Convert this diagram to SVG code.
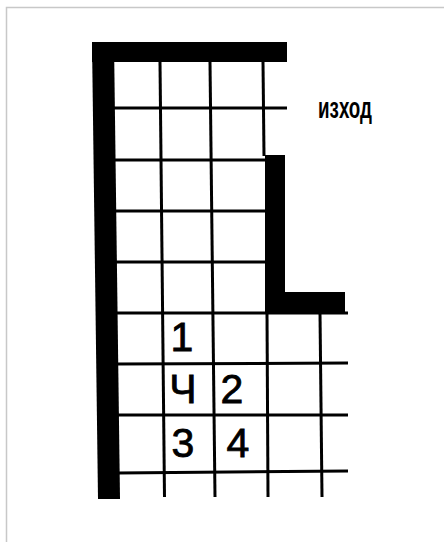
<svg xmlns="http://www.w3.org/2000/svg" width="444" height="542" viewBox="0 0 444 542">
  <style>
    .wall { fill: #000; }
    .grid { stroke: #000; stroke-width: 3; fill: none; }
    .num { font-family: "Liberation Sans", Arial, sans-serif; font-size: 41px; fill: #000; stroke: #000; stroke-width: 0.8; text-anchor: middle; }
    .lbl { font-family: "Liberation Sans", Arial, sans-serif; font-size: 29px; font-weight: bold; fill: #000; }
  </style>
  <rect x="0" y="0" width="444" height="542" fill="#fff"/>
  <rect x="6.5" y="7.5" width="500" height="600" fill="none" stroke="#c8c8c8" stroke-width="1.5"/>

  <g id="grid">
    <line class="grid" x1="160" y1="62" x2="164.5" y2="497"/>
    <line class="grid" x1="210" y1="62" x2="215" y2="497"/>
    <line class="grid" x1="263" y1="62" x2="264" y2="156"/>
    <line class="grid" x1="267" y1="313" x2="268" y2="497"/>
    <line class="grid" x1="320" y1="313" x2="322" y2="497"/>
    <line class="grid" x1="113" y1="108" x2="287" y2="108"/>
    <line class="grid" x1="113" y1="160" x2="266" y2="160"/>
    <line class="grid" x1="114" y1="211" x2="266" y2="211"/>
    <line class="grid" x1="114" y1="262" x2="266" y2="262"/>
    <line class="grid" x1="115" y1="313" x2="348" y2="313"/>
    <line class="grid" x1="116" y1="364" x2="348" y2="363"/>
    <line class="grid" x1="117" y1="415" x2="348" y2="415"/>
    <line class="grid" x1="118" y1="473" x2="348" y2="471"/>
  </g>

  <g id="walls">
    <rect class="wall" x="92" y="42" width="195" height="20"/>
    <polygon class="wall" points="92,42 114,42 120,499 98,499"/>
    <rect class="wall" x="265" y="155" width="20" height="158"/>
    <rect class="wall" x="265" y="292" width="80" height="21"/>
  </g>

  <g id="exit-label">
    <text class="lbl" x="318" y="118" textLength="54" lengthAdjust="spacingAndGlyphs">изход</text>
  </g>

  <g id="numbers">
    <text class="num" x="182" y="351">1</text>
    <text class="num" x="183" y="403">Ч</text>
    <text class="num" x="232" y="403">2</text>
    <text class="num" x="183" y="457">3</text>
    <text class="num" x="238" y="457">4</text>
  </g>
</svg>
